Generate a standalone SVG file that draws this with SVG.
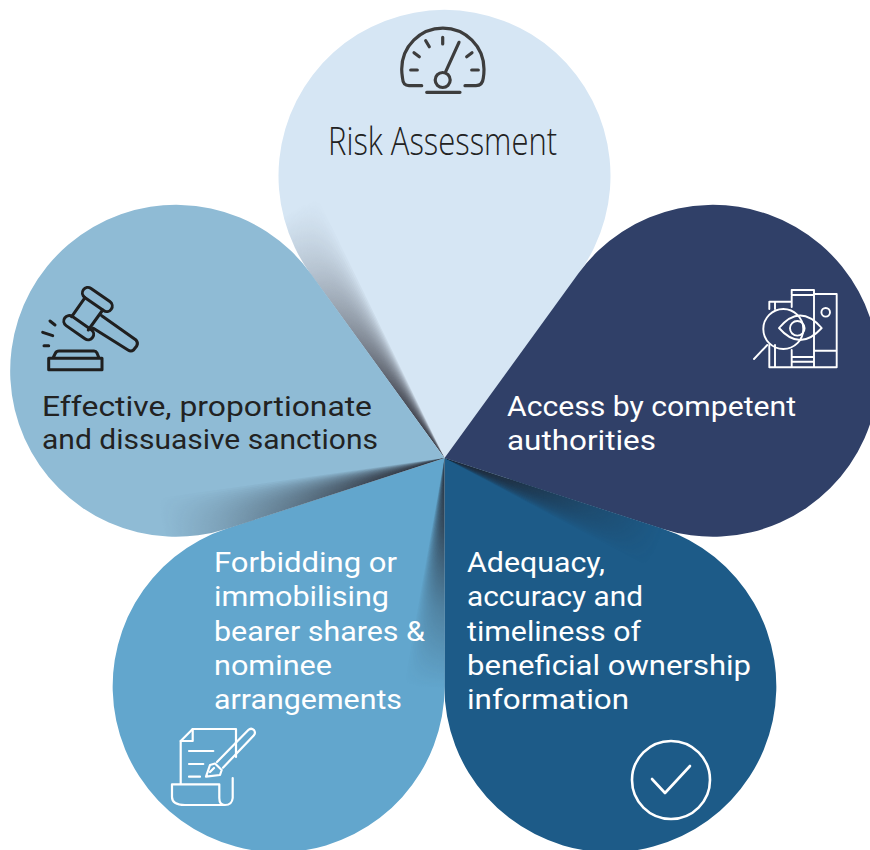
<svg xmlns="http://www.w3.org/2000/svg" width="870" height="850" viewBox="0 0 870 850">
<style>
.lbl{font-family:Roboto,"Noto Sans","Liberation Sans",sans-serif;font-size:28px}
.ic{fill:none;stroke-linecap:round;stroke-linejoin:round}
.w{fill:#fff}.d{fill:#222}
</style>
<defs>
<path id="petal" d="M444.5 458L310.4 273.7A166 166 0 1 1 578.6 273.7Z"/>
<clipPath id="pc"><use href="#petal"/></clipPath>
<radialGradient id="fade" gradientUnits="userSpaceOnUse" cx="444.5" cy="458" r="290">
<stop offset="0" stop-color="#fff"/><stop offset=".25" stop-color="#d8d8d8"/><stop offset=".55" stop-color="#787878"/><stop offset=".8" stop-color="#303030"/><stop offset="1" stop-color="#000"/>
</radialGradient>
<radialGradient id="fade2" gradientUnits="userSpaceOnUse" cx="444.5" cy="458" r="230">
<stop offset="0" stop-color="#fff"/><stop offset=".3" stop-color="#c8c8c8"/><stop offset=".65" stop-color="#505050"/><stop offset="1" stop-color="#000"/>
</radialGradient>
<mask id="fm" maskUnits="userSpaceOnUse" x="-400" y="-400" width="1700" height="1700"><rect x="-400" y="-400" width="1700" height="1700" fill="url(#fade)"/></mask>
<mask id="fm2" maskUnits="userSpaceOnUse" x="-400" y="-400" width="1700" height="1700"><rect x="-400" y="-400" width="1700" height="1700" fill="url(#fade2)"/></mask>
<polygon id="w" points="444.5,458 304.2,170.4 214.3,235.7" fill="#23262f" fill-opacity=".11"/>
<g id="fan">
<use href="#w"/><use href="#w" transform="rotate(-.5 444.5 458)"/><use href="#w" transform="rotate(-1 444.5 458)"/><use href="#w" transform="rotate(-1.5 444.5 458)"/><use href="#w" transform="rotate(-2 444.5 458)"/><use href="#w" transform="rotate(-2.5 444.5 458)"/><use href="#w" transform="rotate(-3 444.5 458)"/><use href="#w" transform="rotate(-3.5 444.5 458)"/><use href="#w" transform="rotate(-4 444.5 458)"/><use href="#w" transform="rotate(-4.5 444.5 458)"/><use href="#w" transform="rotate(-5 444.5 458)"/><use href="#w" transform="rotate(-5.5 444.5 458)"/><use href="#w" transform="rotate(-6 444.5 458)"/><use href="#w" transform="rotate(-6.5 444.5 458)"/><use href="#w" transform="rotate(-7 444.5 458)"/><use href="#w" transform="rotate(-7.5 444.5 458)"/><use href="#w" transform="rotate(-8 444.5 458)"/><use href="#w" transform="rotate(-8.5 444.5 458)"/><use href="#w" transform="rotate(-9 444.5 458)"/><use href="#w" transform="rotate(-9.5 444.5 458)"/>
</g>
<g id="shadow" clip-path="url(#pc)"><g mask="url(#fm)"><use href="#fan"/></g></g>
<g id="shadow2" clip-path="url(#pc)"><g mask="url(#fm2)"><use href="#fan"/></g></g>
</defs>
<rect width="870" height="850" fill="#fff"/>

<g id="node-risk">
<use href="#petal" fill="#d6e6f4"/><use href="#shadow"/>
<g class="ic" stroke="#3d3d3d" stroke-width="3.2">
<path d="M421.7 85.7H409Q403 85.7 402.5 78Q401.7 73 401.7 69.3A41 41 0 0 1 484 69.3Q484 74 483.3 78Q482.5 85.7 476 85.7H465"/>
<circle cx="442.7" cy="80" r="7.5"/><path d="M445.7 71.7L459 42.3M410.7 70H417.3M414 52.7L419.3 56.7M425.7 40.7L429.3 46.7M442.7 37.3V44M466.7 56.7L472 52.7M471.7 70H478.3M426.7 92.3H460"/>
</g>
<text x="328" y="155" font-family="'Open Sans','Noto Sans',sans-serif" font-weight="300" font-size="38" fill="#222" textLength="229" lengthAdjust="spacingAndGlyphs">Risk Assessment</text>
</g>

<g id="node-access">
<use href="#petal" fill="#304068" transform="rotate(72 444.5 458)"/>
<g class="ic" stroke="#fff" stroke-width="1.9">
<path d="M769.3 345V367.3H836.7V294H815M769.3 301.7H791.7M769.3 301.7V309M775 301.7V309M775 345V367.3M791.7 295V290H814V367M791.7 295H814M791.7 296V307M791.7 350V367M792 357H814M792 361.7H814M815 350.7H836.7"/>
<circle cx="825.7" cy="312.3" r="4.3"/><circle cx="783.3" cy="329" r="20"/><path d="M767.3 345L754 359"/>
<path d="M779 328Q800 303 821.7 328Q800 352 779 328Z"/><circle cx="797.3" cy="328.3" r="7.3"/>
</g>
<text class="lbl w" x="507" y="416" textLength="289" lengthAdjust="spacingAndGlyphs">Access by competent</text>
<text class="lbl w" x="507" y="450" textLength="149" lengthAdjust="spacingAndGlyphs">authorities</text>
</g>

<g id="node-adequacy">
<use href="#petal" fill="#1d5b88" transform="rotate(144 444.5 458)"/><g transform="rotate(144 444.5 458)"><use href="#shadow2"/></g>
<circle cx="671" cy="780" r="39" fill="none" stroke="#fff" stroke-width="2.6"/>
<path class="ic" stroke="#fff" stroke-width="2.6" d="M652 779L665 793L690 766"/>
<text class="lbl w" x="467" y="572" textLength="138" lengthAdjust="spacingAndGlyphs">Adequacy,</text>
<text class="lbl w" x="467" y="606" textLength="176" lengthAdjust="spacingAndGlyphs">accuracy and</text>
<text class="lbl w" x="467" y="641" textLength="174" lengthAdjust="spacingAndGlyphs">timeliness of</text>
<text class="lbl w" x="467" y="675" textLength="284" lengthAdjust="spacingAndGlyphs">beneficial ownership</text>
<text class="lbl w" x="467" y="709" textLength="162" lengthAdjust="spacingAndGlyphs">information</text>
</g>

<g id="node-forbidding">
<use href="#petal" fill="#62a6cd" transform="rotate(-144 444.5 458)"/><g transform="rotate(-144 444.5 458)"><use href="#shadow2"/></g>
<g class="ic" stroke="#fff" stroke-width="2.2">
<path d="M180.7 784V741L192.7 729H236V757M232.7 778V798Q232 805 225 805H185Q172 805 172 797V784.3H219.3V798Q219.3 805 225 805"/>
<path d="M180.7 741H192.7V729M189 751H213.3M189 764H203.3M189 776.7H200M206 776.7L210 765L215 763.5L221.7 770L220 775ZM217 762L248.3 730Q251 727.5 254 730Q256 733 253.7 735.5L223 767.7M210 772L214 768"/>
</g>
<text class="lbl w" x="214" y="572" textLength="183" lengthAdjust="spacingAndGlyphs">Forbidding or</text>
<text class="lbl w" x="214" y="606" textLength="175" lengthAdjust="spacingAndGlyphs">immobilising</text>
<text class="lbl w" x="214" y="641" textLength="211" lengthAdjust="spacingAndGlyphs">bearer shares &amp;</text>
<text class="lbl w" x="214" y="675" textLength="118" lengthAdjust="spacingAndGlyphs">nominee</text>
<text class="lbl w" x="214" y="709" textLength="188" lengthAdjust="spacingAndGlyphs">arrangements</text>
</g>

<g id="node-sanctions">
<use href="#petal" fill="#8fbbd5" transform="rotate(-72 444.5 458)"/><g transform="rotate(-72 444.5 458)"><use href="#shadow"/></g>
<g class="ic" stroke="#1f1f1f" stroke-width="3">
<rect x="80.3" y="294" width="34" height="11" rx="5.5" transform="rotate(35 97.3 299.5)"/>
<rect x="61.7" y="322.2" width="34" height="11" rx="5.5" transform="rotate(35 78.7 327.7)"/>
<path d="M85 297.7L71.7 316.7M102.7 310L88.3 330M101.7 315.7L136 340Q138.5 343 136.7 346L133.5 350Q131 352 128 350L93.3 328.3"/>
<path d="M48.7 358.3H102V369.7H48.7ZM53 358L55.5 353Q56.5 351 59 351H94Q96 351 97 353L99 358M50 321L55 325M42.7 332.3L52.7 335.7M44 345.7H48.7"/>
</g>
<text class="lbl d" x="42" y="416" textLength="330" lengthAdjust="spacingAndGlyphs">Effective, proportionate</text>
<text class="lbl d" x="42" y="449" textLength="336" lengthAdjust="spacingAndGlyphs">and dissuasive sanctions</text>
</g>
</svg>
